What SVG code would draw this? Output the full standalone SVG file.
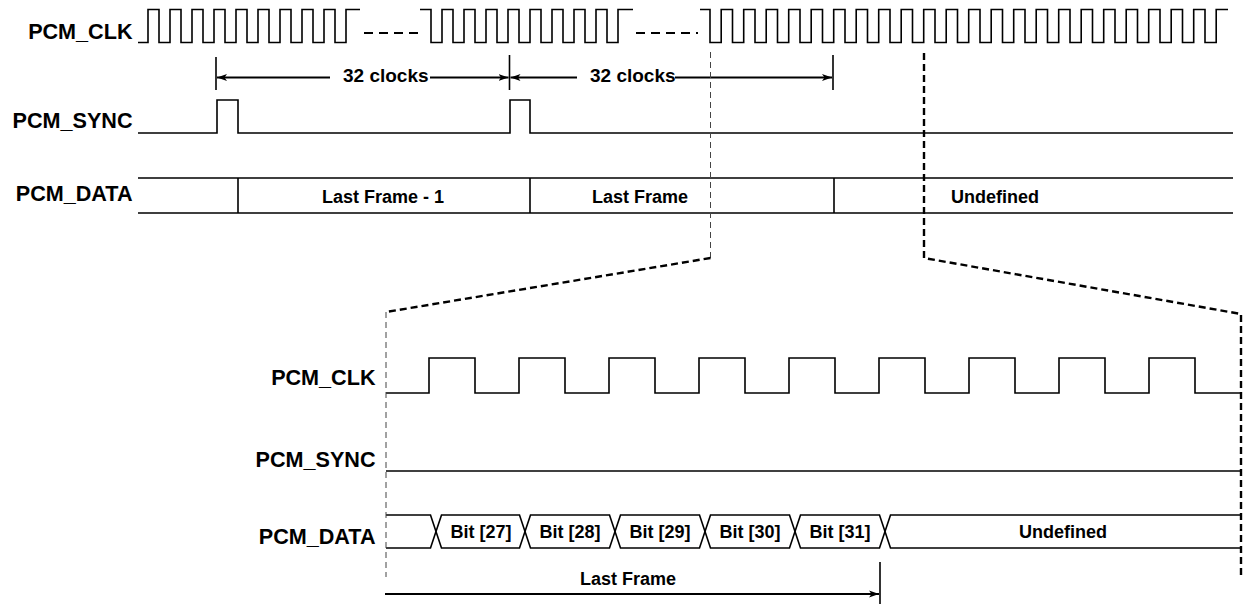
<svg xmlns="http://www.w3.org/2000/svg" width="1246" height="604" viewBox="0 0 1246 604">
<style>
.sig{fill:none;stroke:#000;stroke-width:1.6;stroke-linejoin:miter}
.lbl{font-family:"Liberation Sans",Arial,sans-serif;font-weight:bold;font-size:21.6px;fill:#000;text-anchor:end}
.txt{font-family:"Liberation Sans",Arial,sans-serif;font-weight:bold;font-size:18px;fill:#000;text-anchor:middle}
.clk{font-family:"Liberation Sans",Arial,sans-serif;font-weight:bold;font-size:19px;fill:#000}
.dash{fill:none;stroke:#000;stroke-width:1.8;stroke-dasharray:9 6}
.thin{fill:none;stroke:#444;stroke-width:1;stroke-dasharray:6 4}
.thick{fill:none;stroke:#000;stroke-width:2.4;stroke-dasharray:7 4}
.arr{fill:none;stroke:#000;stroke-width:2;marker-end:url(#ah)}
.tick{stroke:#000;stroke-width:1.6}
</style>
<defs>
<marker id="ah" markerUnits="userSpaceOnUse" markerWidth="11" markerHeight="8" refX="10" refY="4" orient="auto">
<path d="M0,0.5 L10,4 L0,7.5 L2.5,4 Z" fill="#000"/>
</marker>
</defs>

<g id="top-pcm-clk">
<text class="lbl" x="132.5" y="39">PCM_CLK</text>
<path class="sig" d="M138,42.5 H148 V9.5 H159 V42.5 H170 V9.5 H181 V42.5 H192 V9.5 H203 V42.5 H214 V9.5 H225 V42.5 H236 V9.5 H247 V42.5 H258 V9.5 H269 V42.5 H280 V9.5 H291 V42.5 H302 V9.5 H313 V42.5 H324 V9.5 H335 V42.5 H346 V9.5 H360"/>
<line class="dash" x1="364" y1="33" x2="418" y2="33"/>
<path class="sig" d="M420,9.5 H431 V42.5 H442 V9.5 H453 V42.5 H464 V9.5 H475 V42.5 H486 V9.5 H497 V42.5 H508 V9.5 H519 V42.5 H530 V9.5 H541 V42.5 H552 V9.5 H563 V42.5 H574 V9.5 H585 V42.5 H596 V9.5 H607 V42.5 H618 V9.5 H633"/>
<line class="dash" x1="636" y1="33" x2="698" y2="33"/>
<path class="sig" d="M700,9.5 H710 V42.5 H721.2 V9.5 H732.5 V42.5 H743.7 V9.5 H755 V42.5 H766.2 V9.5 H777.5 V42.5 H788.7 V9.5 H800 V42.5 H811.2 V9.5 H822.5 V42.5 H833.7 V9.5 H845 V42.5 H856.2 V9.5 H867.5 V42.5 H878.7 V9.5 H890 V42.5 H901.2 V9.5 H912.5 V42.5 H923.7 V9.5 H935 V42.5 H946.2 V9.5 H957.5 V42.5 H968.7 V9.5 H980 V42.5 H991.2 V9.5 H1002.5 V42.5 H1013.7 V9.5 H1025 V42.5 H1036.2 V9.5 H1047.5 V42.5 H1058.7 V9.5 H1070 V42.5 H1081.2 V9.5 H1092.5 V42.5 H1103.7 V9.5 H1115 V42.5 H1126.2 V9.5 H1137.5 V42.5 H1148.7 V9.5 H1160 V42.5 H1171.2 V9.5 H1182.5 V42.5 H1193.7 V9.5 H1205 V42.5 H1216.2 V9.5 H1228"/>
</g>

<g id="top-32-clocks">
<line class="tick" x1="216" y1="57" x2="216" y2="90"/>
<line class="tick" x1="509.5" y1="55" x2="509.5" y2="90"/>
<line class="tick" x1="833" y1="55" x2="833" y2="90"/>
<text class="clk" x="343" y="82">32 clocks</text>
<text class="clk" x="590" y="82">32 clocks</text>
</g>

<g id="top-pcm-sync">
<text class="lbl" x="132.5" y="128">PCM_SYNC</text>
<path class="sig" d="M138,133 H217 V100 H238 V133 H510 V100 H530 V133 H1233"/>
</g>

<g id="top-pcm-data">
<text class="lbl" x="132.5" y="201">PCM_DATA</text>
<path class="sig" d="M138,178 H1233 M138,213 H1233 M238,178 V213 M530,178 V213 M834,178 V213"/>
<text class="txt" x="383" y="203">Last Frame - 1</text>
<text class="txt" x="640" y="203">Last Frame</text>
<text class="txt" x="995" y="203">Undefined</text>
</g>

<g id="bottom-pcm-clk">
<text class="lbl" x="375.5" y="385">PCM_CLK</text>
<path class="sig" d="M386,393 H429 V358 H475 V393 H519 V358 H565 V393 H609 V358 H655 V393 H699 V358 H745 V393 H789 V358 H835 V393 H879 V358 H925 V393 H969 V358 H1015 V393 H1059 V358 H1105 V393 H1149 V358 H1195 V393 H1241"/>
</g>

<g id="bottom-pcm-sync">
<text class="lbl" x="375.5" y="467">PCM_SYNC</text>
<path class="sig" d="M386,471 H1241"/>
</g>

<g id="bottom-pcm-data">
<text class="lbl" x="375.5" y="544">PCM_DATA</text>
<path class="sig" d="M386,515 H430.5 L441.5,548 H519.5 L530.5,515 H609.5 L620.5,548 H699.5 L710.5,515 H789.5 L800.5,548 H879.5 L890.5,515 H1241"/>
<path class="sig" d="M386,548 H430.5 L441.5,515 H519.5 L530.5,548 H609.5 L620.5,515 H699.5 L710.5,548 H789.5 L800.5,515 H879.5 L890.5,548 H1241"/>
<text class="txt" x="481" y="538">Bit [27]</text>
<text class="txt" x="570" y="538">Bit [28]</text>
<text class="txt" x="660" y="538">Bit [29]</text>
<text class="txt" x="750" y="538">Bit [30]</text>
<text class="txt" x="840" y="538">Bit [31]</text>
<text class="txt" x="1063" y="538">Undefined</text>
</g>

<g id="bottom-last-frame">
<line class="tick" x1="880" y1="562" x2="880" y2="604"/>
<text class="txt" x="628" y="585">Last Frame</text>
</g>

<g id="connectors">
<line class="arr" x1="330" y1="77.5" x2="217" y2="77.5"/>
<line class="arr" x1="430" y1="77.5" x2="508.5" y2="77.5"/>
<line class="arr" x1="577" y1="77.5" x2="510.5" y2="77.5"/>
<line class="arr" x1="675" y1="77.5" x2="832" y2="77.5"/>
<line class="arr" x1="385" y1="594" x2="879" y2="594"/>
<path class="thin" d="M710.5,52 V258"/>
<path class="thick" d="M710.5,258 L386,312"/>
<path class="thin" d="M386,312 V577"/>
<path class="thick" d="M924,53 V258 L1241,314 V577"/>
</g>
</svg>
